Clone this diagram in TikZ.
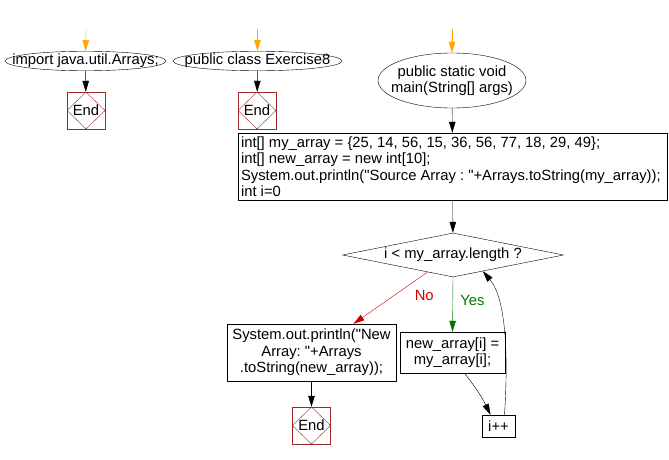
\documentclass[tikz,border=0pt]{standalone}
\usepackage{fontspec}
\setmainfont{Liberation Sans}[Ligatures=TeXOff]
\usetikzlibrary{shapes.geometric, arrows.meta, calc}
\definecolor{startorange}{RGB}{255,165,0}
\definecolor{endred}{RGB}{160,40,40}
\definecolor{nored}{RGB}{204,0,0}
\definecolor{yesgreen}{RGB}{0,120,0}
\newcommand{\tight}[1]{\makebox[0pt]{#1}}
\frenchspacing
\tikzset{
    >={Triangle[length=11pt, width=6.5pt]}, % long narrow heads
    line width=0.8pt,
    every node/.style={font=\fontsize{14.8}{16.5}\selectfont},
    terminal/.style={ellipse, draw, inner sep=0pt},
    block/.style={rectangle, draw, inner sep=3pt, align=center},
    decision/.style={diamond, draw, inner sep=0pt, minimum width=221pt, minimum height=44pt},
    stopbox/.style={rectangle, draw=endred, minimum width=38pt, minimum height=37pt, inner sep=0pt,
        path picture={\draw[endred] (path picture bounding box.north) -- (path picture bounding box.east)
            -- (path picture bounding box.south) -- (path picture bounding box.west) -- cycle;}},
    }

\begin{document}
\begin{tikzpicture}[x=1pt, y=-1pt]
\useasboundingbox (0,0) rectangle (669,460);
\coordinate (s1) at (86,29);
\coordinate (s2) at (257.5,29);
\coordinate (s3) at (452,29);

\node[terminal, minimum width=161pt, minimum height=19pt] (imp) at (85.5,61) {\tight{import java.util.Arrays;}};
\node[terminal, minimum width=169pt, minimum height=19pt] (cls) at (257.5,61) {\tight{public class Exercise8}};
\node[terminal, minimum width=148pt, minimum height=55pt, align=center] (main) at (452,80.5)
    {\tight{public static void}\\\tight{main(String[] args)}};
\node[stopbox] (end1) at (86,110.5) {End};
\node[stopbox] (end2) at (257,110.5) {End};
\node[block, minimum width=429pt, minimum height=67pt, text width=423pt, align=flush left] (init) at (452.5,166.5)
    {\mbox{int[] my\_array = \{25, 14, 56, 15, 36, 56, 77, 18, 29, 49\};}\\
     \mbox{int[] new\_array = new int[10];}\\
     \mbox{System.out.println("Source Array : "+Arrays.toString(my\_array));}\\
     \mbox{int i=0}};
\node[decision] (cond) at (453,255) {\tight{i < my\_array.length ?}};
\node[block, minimum width=169pt, minimum height=57pt] (print) at (311.5,352.5)
    {System.out.println("New\\Array: "+Arrays\\.toString(new\_array));};
\node[block, minimum width=105pt, minimum height=41pt] (newarr) at (452.5,352.5) {new\_array[i] =\\my\_array[i];};
\node[block, minimum width=33pt, minimum height=22pt] (inc) at (498.5,426) {i++};
\node[stopbox] (end3) at (311.5,425.5) {End};

\draw[->, startorange] (s1) -- (imp);
\draw[->, startorange] (s2) -- (cls);
\draw[->, startorange] (s3) -- (main);
\draw[->] (imp) edge (end1)
    (cls) edge (end2)
    (main) edge (init)
    (init) edge (cond)
    (print) edge (end3);
\draw[->, nored] ($(cond.south)!0.23!(cond.west)$) -- ([xshift=42pt]print.north)
    node[pos=0.45, right=17pt, text=nored] {No};
\draw[->, yesgreen] (cond.south) -- (newarr.north)
    node[pos=0.42, right=4pt, text=yesgreen] {Yes};
\draw[->] ([xshift=12pt]newarr.south) to[bend left=6] ([xshift=-8pt]inc.north);
\draw[->] ([xshift=6pt]inc.north) .. controls (508,360) and (507,300) .. ($(cond.south)!0.27!(cond.east)$);
\end{tikzpicture}
\end{document}
